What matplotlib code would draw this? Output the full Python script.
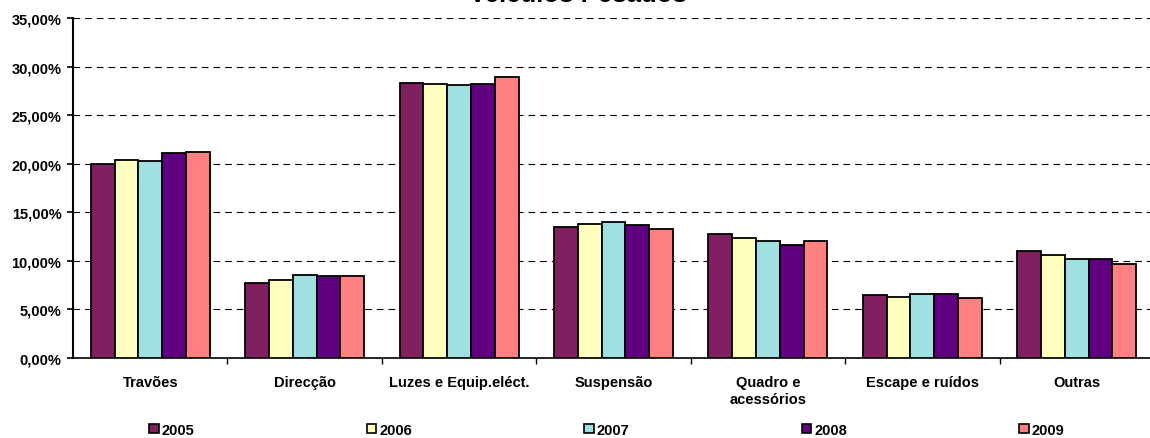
import matplotlib
matplotlib.use("Agg")
import matplotlib.pyplot as plt
import numpy as np
from matplotlib.ticker import FuncFormatter
from matplotlib.patches import Patch

plt.rcParams['font.family'] = ['Liberation Sans', 'DejaVu Sans']
plt.rcParams['font.weight'] = 'bold'

title = "Veículos Pesados"
categories = ["Travões", "Direcção", "Luzes e Equip.eléct.", "Suspensão",
              "Quadro e\nacessórios", "Escape e ruídos", "Outras"]
years = ["2005", "2006", "2007", "2008", "2009"]
v2005 = [20.0, 7.74, 28.31, 13.47, 12.72, 6.46, 11.05]
v2006 = [20.34, 8.06, 28.20, 13.84, 12.35, 6.33, 10.65]
v2007 = [20.31, 8.54, 28.07, 13.95, 12.00, 6.60, 10.24]
v2008 = [21.14, 8.47, 28.17, 13.64, 11.67, 6.56, 10.14]
v2009 = [21.24, 8.47, 28.95, 13.23, 12.00, 6.22, 9.69]
series = [v2005, v2006, v2007, v2008, v2009]
colors = ["#802060", "#FFFFC0", "#A0E0E0", "#600080", "#FF8080"]

W, H = 1150, 439
fig = plt.figure(figsize=(W / 100, H / 100), dpi=100)
ax = fig.add_axes([73 / W, 1 - 359 / H, (1154 - 73) / W, (359 - 19) / H])

x = np.arange(len(categories))
bw = 0.154
for i, (vals, c) in enumerate(zip(series, colors)):
    ax.bar(x + (i - 2) * bw, vals, width=bw, color=c, edgecolor='black',
           linewidth=1.3, zorder=3, label=years[i])

ax.set_xlim(-0.5, len(categories) - 0.5)
ax.set_ylim(0, 35)
ax.set_yticks(np.arange(0, 36, 5))
ax.yaxis.set_major_formatter(FuncFormatter(lambda v, p: f"{v:.2f}%".replace('.', ',')))
ax.yaxis.grid(True, color='black', linewidth=0.8, linestyle=(0, (6, 4.5)), zorder=0)
ax.set_axisbelow(True)

ax.set_xticks(x)
ax.set_xticklabels(categories, fontsize=10.5, fontweight='bold', linespacing=1.2)
ax.set_xticks(np.arange(0.5, len(categories) - 0.5, 1), minor=True)
ax.tick_params(axis='x', which='major', length=0, pad=12.5)
ax.tick_params(axis='x', which='minor', length=4, width=1, direction='out')
ax.tick_params(axis='y', length=4.3, width=1.2, direction='out', labelsize=10.5, pad=4)
for lab in ax.get_yticklabels():
    lab.set_fontweight('bold')

for s in ['top', 'right']:
    ax.spines[s].set_visible(False)
ax.spines['left'].set_linewidth(1.5)
ax.spines['bottom'].set_linewidth(1.2)

fig.text(578 / W, 1 - 2 / H, title, ha='center', va='baseline',
         fontsize=18.5, fontweight='bold')

handles = [Patch(facecolor=c, edgecolor='black', linewidth=1.2) for c in colors]
fig.legend(handles, years, loc='lower left', ncol=5, mode='expand',
           bbox_to_anchor=(148 / W, 0.0, (1066 - 148) / W, 20 / H),
           frameon=False, fontsize=10.5, handlelength=0.65, handleheight=0.65,
           handletextpad=0.2, borderpad=0.1, borderaxespad=0.0)

fig.savefig("out.png", dpi=100)
